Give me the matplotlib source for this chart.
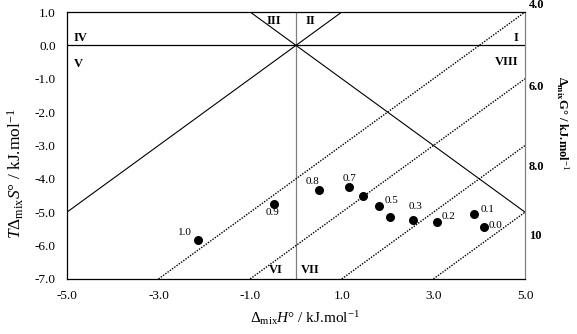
import matplotlib
matplotlib.use("Agg")
import matplotlib.pyplot as plt

plt.rcParams["font.family"] = "Liberation Serif"
plt.rcParams["mathtext.fontset"] = "custom"
plt.rcParams["mathtext.rm"] = "Liberation Serif"
plt.rcParams["mathtext.it"] = "Liberation Serif:italic"
plt.rcParams["mathtext.bf"] = "Liberation Serif:bold"

# mole fraction labels and measured points
X_LABELS = ["1.0", "0.9", "0.8", "0.7", "0.6", "0.5", "0.4", "0.3", "0.2", "0.1", "0.0"]
DH = [-2.14, -0.48, 0.50, 1.16, 1.46, 1.81, 2.05, 2.56, 3.07, 3.89, 4.10]
TDS = [-5.83, -4.75, -4.33, -4.26, -4.53, -4.81, -5.13, -5.23, -5.30, -5.06, -5.45]
SHOW_LABEL = [True, True, True, True, False, True, False, True, True, True, True]

# iso-Gibbs lines (dG = dH - TdS) and their right-side labels
DG_LEVELS = [4.0, 6.0, 8.0, 10.0]
DG_TEXT = ["4.0", "6.0", "8.0", "10"]
DG_LABEL_Y = [1.2, -1.25, -3.65, -5.7]

# region labels (Roman numerals)
REGIONS = ["I", "II", "III", "IV", "V", "VI", "VII", "VIII"]
REGION_XY = [(4.85, 0.22), (0.2, 0.72), (-0.65, 0.72), (-4.85, 0.22),
             (-4.85, -0.55), (-0.6, -6.72), (0.1, -6.72), (4.85, -0.5)]
REGION_HA = ["right", "left", "left", "left", "left", "left", "left", "right"]

XMIN, XMAX, YMIN, YMAX = -5.0, 5.0, -7.0, 1.0

fig = plt.figure(figsize=(5.77, 3.34), dpi=100)
ax = fig.add_axes([0.116, 0.165, 0.794, 0.799])
ax.set_xlim(XMIN, XMAX)
ax.set_ylim(YMIN, YMAX)

# axes cross
ax.axhline(0, color="black", lw=0.9, zorder=1)
ax.axvline(0, color="#808080", lw=0.9, zorder=1)
# diagonals dH = TdS and dH = -TdS
ax.plot([-5, 1], [-5, 1], color="black", lw=0.8, zorder=1)
ax.plot([-1, 5], [1, -5], color="black", lw=0.8, zorder=1)

# iso-dG dotted lines
for g in DG_LEVELS:
    x0 = YMIN + g
    ax.plot([x0, XMAX], [x0 - g, XMAX - g], color="black", lw=1.0,
            ls=(0, (1, 1)), zorder=1)

ax.scatter(DH, TDS, s=30, color="black", zorder=3)

# label offsets in pixels (dx right, dy down)
offsets = {
    "1.0": (-13, 7), "0.9": (-2, -9), "0.8": (-6, 8), "0.7": (0, 9),
    "0.5": (13, 5), "0.3": (2, 13), "0.2": (12, 6), "0.1": (13, 5),
    "0.0": (12, 2),
}
for lab, x, y, show in zip(X_LABELS, DH, TDS, SHOW_LABEL):
    if not show:
        continue
    dx, dy = offsets[lab]
    ax.annotate(lab, (x, y), xytext=(dx * 0.72, dy * 0.72),
                textcoords="offset points", ha="center", va="center",
                fontsize=8)

for name, (x, y), ha in zip(REGIONS, REGION_XY, REGION_HA):
    ax.text(x, y, name, ha=ha, va="center", fontsize=9, fontweight="bold")

for t, y in zip(DG_TEXT, DG_LABEL_Y):
    ax.text(5.08, y, t, ha="left", va="center", fontsize=9, fontweight="bold")

ax.set_xticks([-5, -3, -1, 1, 3, 5])
ax.set_xticklabels(["-5.0", "-3.0", "-1.0", "1.0", "3.0", "5.0"])
ax.set_yticks(range(-7, 2))
ax.set_yticklabels([f"{v:.1f}" for v in range(-7, 2)])
ax.tick_params(length=0, labelsize=9.5, pad=8)

for side in ["left", "bottom", "top"]:
    ax.spines[side].set_color("black")
    ax.spines[side].set_linewidth(0.9)
ax.spines["right"].set_color("#808080")
ax.spines["right"].set_linewidth(0.9)

ax.set_xlabel(r"$\Delta_{\rm mix}H$° / kJ.mol$^{-1}$", fontsize=11)
ax.xaxis.set_label_coords(0.52, -0.112)
ax.set_ylabel(r"$T\Delta_{\rm mix}S$° / kJ.mol$^{-1}$", fontsize=12.5)
ax.yaxis.set_label_coords(-0.09, 0.393)
fig.text(0.975, 0.632, r"$\mathbf{\Delta_{mix}G}$° / kJ.mol$^{-1}$", rotation=-90,
         ha="center", va="center", fontsize=9, fontweight="bold")

fig.savefig("out.png", dpi=100, facecolor="white")
